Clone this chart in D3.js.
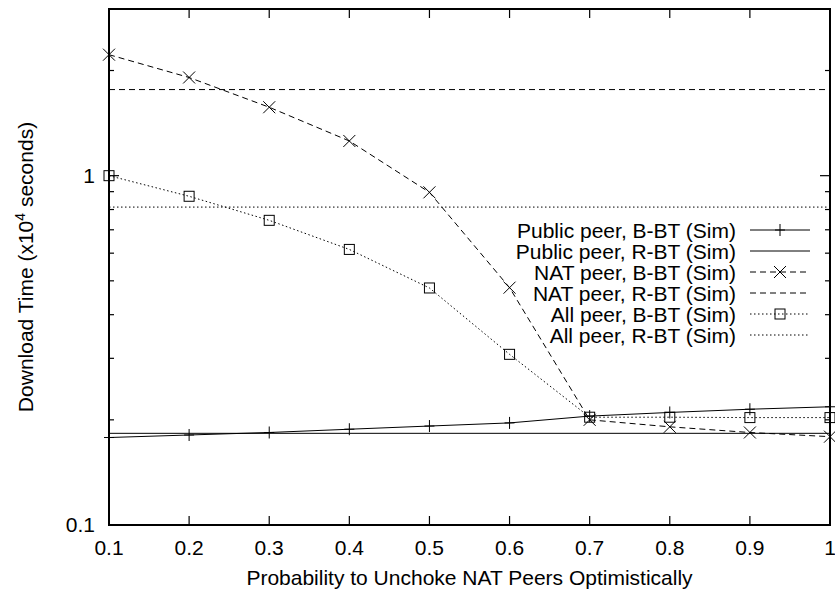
<!DOCTYPE html>
<html>
<head>
<meta charset="utf-8">
<script src="https://cdn.jsdelivr.net/npm/d3@7"></script>
<style>
  html, body { margin: 0; padding: 0; background: #fff; }
  svg { display: block; }
</style>
</head>
<body>
<script>
// Data
const probs = [0.1, 0.2, 0.3, 0.4, 0.5, 0.6, 0.7, 0.8, 0.9, 1.0]
const publicBBT = [0.178, 0.181, 0.184, 0.188, 0.192, 0.196, 0.205, 0.210, 0.2145, 0.218]
const natBBT = [2.22, 1.91, 1.57, 1.257, 0.896, 0.478, 0.200, 0.191, 0.184, 0.179]
const allBBT = [1.0, 0.873, 0.745, 0.615, 0.477, 0.308, 0.2035, 0.2035, 0.203, 0.203]
const publicRBT = 0.183
const natRBT = 1.764
const allRBT = 0.813
const xTicks = [0.1, 0.2, 0.3, 0.4, 0.5, 0.6, 0.7, 0.8, 0.9, 1]
const yMajor = [0.1, 1]
const yMinor = [0.2, 0.3, 0.4, 0.5, 0.6, 0.7, 0.8, 0.9, 2, 3]

// Layout
const W = 835, H = 593
const margin = { top: 9, right: 5, bottom: 68, left: 109 }
const font = "'Liberation Sans', Arial, Helvetica, sans-serif"
const fs = 21

const svg = d3.select("body").append("svg").attr("width", W).attr("height", H)
  .attr("font-family", font).attr("font-size", fs)

const x = d3.scaleLinear().domain([0.1, 1]).range([margin.left, W - margin.right])
const y = d3.scaleLog().domain([0.1, 3]).range([H - margin.bottom, margin.top])
const [x0, x1] = x.range()
const [y0, y1] = y.range()

// Series definitions
const series = [
  { name: "Public peer, B-BT (Sim)", values: publicBBT, dash: null, marker: "plus" },
  { name: "Public peer, R-BT (Sim)", value: publicRBT, dash: null },
  { name: "NAT peer, B-BT (Sim)", values: natBBT, dash: "6,4", marker: "cross" },
  { name: "NAT peer, R-BT (Sim)", value: natRBT, dash: "6,4" },
  { name: "All peer, B-BT (Sim)", values: allBBT, dash: "1.5,2.5", marker: "square" },
  { name: "All peer, R-BT (Sim)", value: allRBT, dash: "1.5,2.5" },
]

function drawMarker(g, type, cx, cy) {
  if (type === "plus") {
    g.append("path").attr("d", `M${cx - 5},${cy}H${cx + 5}M${cx},${cy - 6}V${cy + 6}`)
  } else if (type === "cross") {
    g.append("path").attr("d", `M${cx - 6},${cy - 6}L${cx + 6},${cy + 6}M${cx - 6},${cy + 6}L${cx + 6},${cy - 6}`)
  } else if (type === "square") {
    g.append("rect").attr("x", cx - 5).attr("y", cy - 5).attr("width", 10).attr("height", 10).attr("fill", "none")
  }
}

// Ticks (bottom/top, left/right mirrored)
const ticks = svg.append("g").attr("stroke", "#000").attr("stroke-width", 1.2)
xTicks.forEach(t => {
  ticks.append("line").attr("x1", x(t)).attr("x2", x(t)).attr("y1", y0).attr("y2", y0 - 9)
  ticks.append("line").attr("x1", x(t)).attr("x2", x(t)).attr("y1", y1).attr("y2", y1 + 9)
})
yMajor.forEach(t => {
  ticks.append("line").attr("x1", x0).attr("x2", x0 + 10).attr("y1", y(t)).attr("y2", y(t))
  ticks.append("line").attr("x1", x1).attr("x2", x1 - 10).attr("y1", y(t)).attr("y2", y(t))
})
yMinor.forEach(t => {
  ticks.append("line").attr("x1", x0).attr("x2", x0 + 5).attr("y1", y(t)).attr("y2", y(t))
  ticks.append("line").attr("x1", x1).attr("x2", x1 - 5).attr("y1", y(t)).attr("y2", y(t))
})

// Tick labels
svg.append("g").attr("text-anchor", "middle").selectAll("text").data(xTicks).join("text")
  .attr("x", d => x(d)).attr("y", y0 + 30).text(d => d3.format("~g")(d))
svg.append("g").attr("text-anchor", "end").selectAll("text").data(yMajor).join("text")
  .attr("x", x0 - 14).attr("y", d => y(d) + 7).text(d => d3.format("~g")(d))

// Axis titles
svg.append("text").attr("text-anchor", "middle").attr("x", (x0 + x1) / 2).attr("y", 585)
  .text("Probability to Unchoke NAT Peers Optimistically")
const yl = svg.append("text").attr("text-anchor", "middle")
  .attr("transform", `translate(33,${(y0 + y1) / 2}) rotate(-90)`)
yl.append("tspan").text("Download Time (x10")
yl.append("tspan").attr("font-size", 14).attr("dy", -8).text("4")
yl.append("tspan").attr("dy", 8).text(" seconds)")

// Data lines
const plot = svg.append("g").attr("fill", "none").attr("stroke", "#000").attr("stroke-width", 1)
const line = d3.line().x(d => x(d[0])).y(d => y(d[1]))
series.forEach(s => {
  if (s.values) {
    plot.append("path").attr("d", line(probs.map((p, i) => [p, s.values[i]])))
      .attr("stroke-dasharray", s.dash)
    const mg = plot.append("g")
    probs.forEach((p, i) => drawMarker(mg, s.marker, x(p), y(s.values[i])))
  } else {
    plot.append("line").attr("x1", x0).attr("x2", x1).attr("y1", y(s.value)).attr("y2", y(s.value))
      .attr("stroke-dasharray", s.dash)
  }
})

// Legend
const legend = svg.append("g")
series.forEach((s, i) => {
  const ly = 230 + i * 21
  legend.append("text").attr("text-anchor", "end").attr("x", 736).attr("y", ly + 7.5).text(s.name)
  const lg = legend.append("g").attr("fill", "none").attr("stroke", "#000").attr("stroke-width", 1)
  lg.append("line").attr("x1", 750).attr("x2", 810).attr("y1", ly).attr("y2", ly).attr("stroke-dasharray", s.dash)
  if (s.marker) drawMarker(lg, s.marker, 780, ly)
})

// Frame
svg.append("rect").attr("x", x0).attr("y", y1).attr("width", x1 - x0).attr("height", y0 - y1)
  .attr("fill", "none").attr("stroke", "#000").attr("stroke-width", 2)
</script>
</body>
</html>
